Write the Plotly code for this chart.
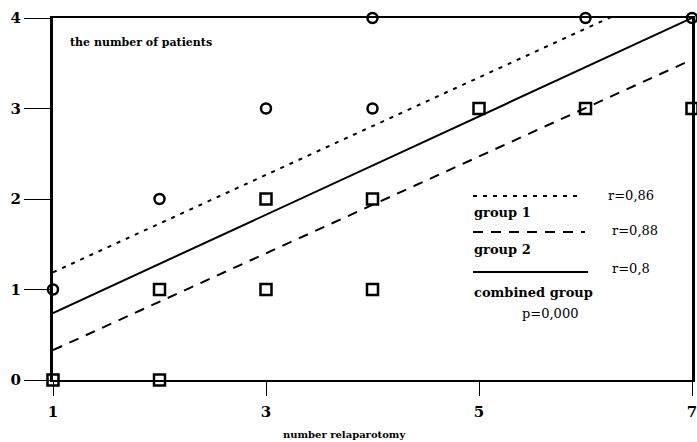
import plotly.graph_objects as go

# Group 1 (circles) and group 2 (squares) observations
g1_x = [1, 2, 3, 4, 4, 6, 7]
g1_y = [1, 2, 3, 3, 4, 4, 4]
g2_x = [1, 2, 2, 3, 3, 4, 4, 5, 6, 7]
g2_y = [0, 0, 1, 1, 2, 1, 2, 3, 3, 3]

# Regression lines (endpoints)
fit_x = [1, 7]
fit_g1 = [1.19, 4.42]
fit_g2 = [0.33, 3.54]
fit_all = [0.74, 4.0]

x_ticks = [1, 3, 5, 7]
y_ticks = [0, 1, 2, 3, 4]

SERIF = "DejaVu Serif, Liberation Serif, serif"

fig = go.Figure()
fig.add_trace(go.Scatter(x=fit_x, y=fit_g1, mode="lines",
                         line=dict(color="black", width=2, dash="4px,6px"), hoverinfo="skip"))
fig.add_trace(go.Scatter(x=fit_x, y=fit_g2, mode="lines",
                         line=dict(color="black", width=2, dash="10px,8px"), hoverinfo="skip"))
fig.add_trace(go.Scatter(x=fit_x, y=fit_all, mode="lines",
                         line=dict(color="black", width=2), hoverinfo="skip"))
fig.add_trace(go.Scatter(x=g1_x, y=g1_y, mode="markers", cliponaxis=False,
                         marker=dict(symbol="circle-open", size=10, color="black",
                                     line=dict(width=2.5, color="black"))))
fig.add_trace(go.Scatter(x=g2_x, y=g2_y, mode="markers", cliponaxis=False,
                         marker=dict(symbol="square-open", size=11, color="black",
                                     line=dict(width=2.5, color="black"))))

# window pixel -> paper coordinates (plot area spans x 53..692, y 18..380)
def px(p):
    return (p - 53) / 639.0

def py(p):
    return (380 - p) / 362.0

# legend samples
fig.add_shape(type="line", xref="paper", yref="paper", x0=px(473), x1=px(583), y0=py(196), y1=py(196),
              line=dict(color="black", width=2, dash="4px,6px"))
fig.add_shape(type="line", xref="paper", yref="paper", x0=px(473), x1=px(585), y0=py(232), y1=py(232),
              line=dict(color="black", width=2, dash="10px,8px"))
fig.add_shape(type="line", xref="paper", yref="paper", x0=px(473), x1=px(588), y0=py(272), y1=py(272),
              line=dict(color="black", width=2))

def ann(text, x, y, size=12, bold=True, xanchor="left"):
    fig.add_annotation(text=("<b>%s</b>" % text) if bold else text, xref="paper", yref="paper",
                       x=x, y=y, xanchor=xanchor, yanchor="middle", showarrow=False,
                       font=dict(family=SERIF, size=size, color="black"))

ann("r=0,86", px(606), py(195), 13, False)
ann("group 1", px(472), py(212), 13)
ann("r=0,88", px(610), py(230), 13, False)
ann("group 2", px(472), py(250), 13)
ann("r=0,8", px(610), py(268), 13, False)
ann("combined group", px(472), py(292), 13)
ann("p=0,000", px(520), py(313), 13, False)
ann("the number of patients", px(68), py(42), 11)
ann("number relaparotomy", px(344), py(434), 10, xanchor="center")

fig.update_layout(
    width=697, height=442,
    margin=dict(l=53, r=5, t=18, b=62),
    plot_bgcolor="white", paper_bgcolor="white",
    showlegend=False,
    xaxis=dict(range=[1, 7], tickvals=x_ticks, ticktext=["<b>%d</b>" % v for v in x_ticks],
               showgrid=False, zeroline=False, showline=True, linecolor="black", linewidth=2,
               mirror=True, ticks="outside", ticklen=14, tickwidth=1, tickcolor="black",
               automargin=False, ticklabelstandoff=3, ticklabeloverflow="allow",
               tickfont=dict(family=SERIF, size=15, color="black")),
    yaxis=dict(range=[0, 4], tickvals=y_ticks, ticktext=["<b>%d</b>" % v for v in y_ticks],
               showgrid=False, zeroline=False, showline=True, linecolor="black", linewidth=3,
               mirror=True, ticks="outside", ticklen=26, tickwidth=1, tickcolor="black",
               automargin=False, ticklabeloverflow="allow",
               tickfont=dict(family=SERIF, size=15, color="black")),
)

# remove the default page margin so the figure fills the window exactly
fig.write_html("out.html", config={"displayModeBar": False},
               post_script="document.body.style.margin='0';document.body.style.overflow='hidden';")
